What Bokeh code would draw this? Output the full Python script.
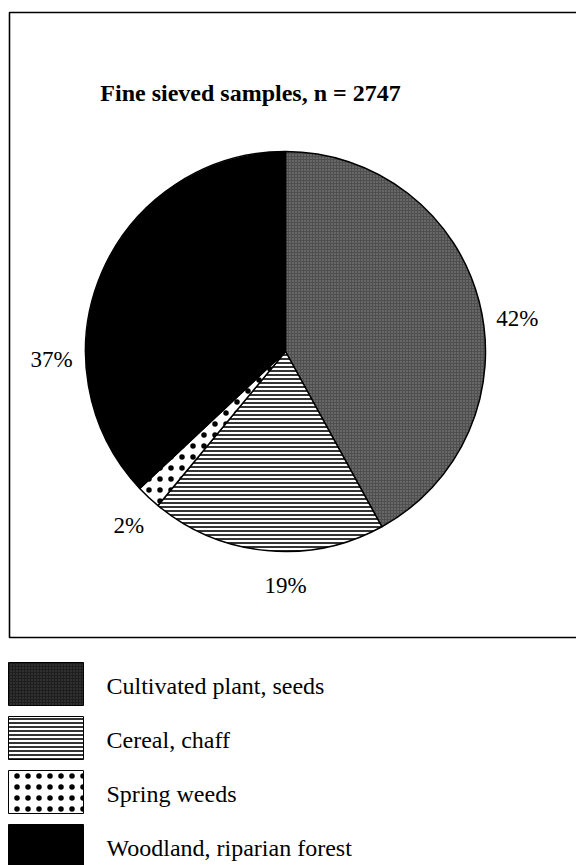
import math
from bokeh.plotting import figure
from bokeh.models import Range1d
from bokeh.core.properties import value
from bokeh.embed import file_html
from bokeh.resources import INLINE

# ---- data ----
title_text = "Fine sieved samples, n = 2747"
categories = ["Cultivated plant, seeds", "Cereal, chaff", "Spring weeds", "Woodland, riparian forest"]
percent = [42, 19, 2, 37]
pct_labels = ["42%", "19%", "2%", "37%"]

# ---- styles / layout ----
pie_fill = ["#4f4f4f", "white", "white", "black"]
legend_fill = ["#1e1e1e", "white", "white", "black"]
hatch_pat = ["dot", "horizontal_line", "dot", None]
pie_hatch_col = ["#8c8c8c", "black", "black", "black"]
legend_hatch_col = ["#4a4a4a", "black", "black", "black"]
hatch_scl = [3, 4, 11, 1]
hatch_wt = [1.0, 1.6, 1.2, 1.0]
label_angle_deg = [82, 180, 222, 268]   # clockwise from 12 o'clock
label_dist = 1.17

W, H = 576, 865
FONT = "Liberation Serif"


def X(px):
    return px


def Y(py):
    return H - py


p = figure(width=W, height=H, x_range=Range1d(0, W), y_range=Range1d(0, H),
           output_backend="svg", toolbar_location=None, min_border=0)
p.axis.visible = False
p.xgrid.visible = False
p.ygrid.visible = False
p.outline_line_color = None
p.background_fill_color = "white"
p.border_fill_color = "white"

# frame around chart area (right side runs off the page)
p.quad(left=[X(9)], right=[X(640)], top=[Y(12)], bottom=[Y(637)],
       fill_color=None, line_color="black", line_width=1.6)

# title
p.text(x=[X(250)], y=[Y(92)], text=[title_text], text_font=value(FONT),
       text_font_size="24px", text_font_style="bold", text_align="center",
       text_baseline="alphabetic", text_color="black")

# pie
cx, cy, R = X(285), Y(351), 200
total = float(sum(percent))
cum = 0.0
for i, v in enumerate(percent):
    f0 = cum / total
    cum += v
    f1 = cum / total
    start = math.pi / 2 - 2 * math.pi * f1
    end = math.pi / 2 - 2 * math.pi * f0
    kw = dict(fill_color=pie_fill[i], line_color="black", line_width=1.5)
    if hatch_pat[i]:
        kw.update(hatch_pattern=hatch_pat[i], hatch_color=pie_hatch_col[i],
                  hatch_scale=hatch_scl[i], hatch_weight=hatch_wt[i])
    p.wedge(x=[cx], y=[cy], radius=R, start_angle=[start], end_angle=[end],
            direction="anticlock", **kw)

# percentage labels
for i, lab in enumerate(pct_labels):
    th = math.radians(label_angle_deg[i])
    lx = cx + label_dist * R * math.sin(th)
    ly = cy + label_dist * R * math.cos(th)
    p.text(x=[lx], y=[ly], text=[lab], text_font=value(FONT),
           text_font_size="23px", text_align="center", text_baseline="middle",
           text_color="black")

# legend
for i, cat in enumerate(categories):
    top = 662 + 54 * i
    kw = dict(fill_color=legend_fill[i], line_color="black", line_width=1)
    if hatch_pat[i]:
        kw.update(hatch_pattern=hatch_pat[i], hatch_color=legend_hatch_col[i],
                  hatch_scale=hatch_scl[i], hatch_weight=hatch_wt[i])
    p.quad(left=[X(8)], right=[X(83)], top=[Y(top)], bottom=[Y(top + 43)], **kw)
    p.text(x=[X(106)], y=[Y(top + 23)], text=[cat], text_font=value(FONT),
           text_font_size="24px", text_align="left", text_baseline="alphabetic",
           text_color="black")

open("out.html", "w").write(file_html(p, INLINE))
